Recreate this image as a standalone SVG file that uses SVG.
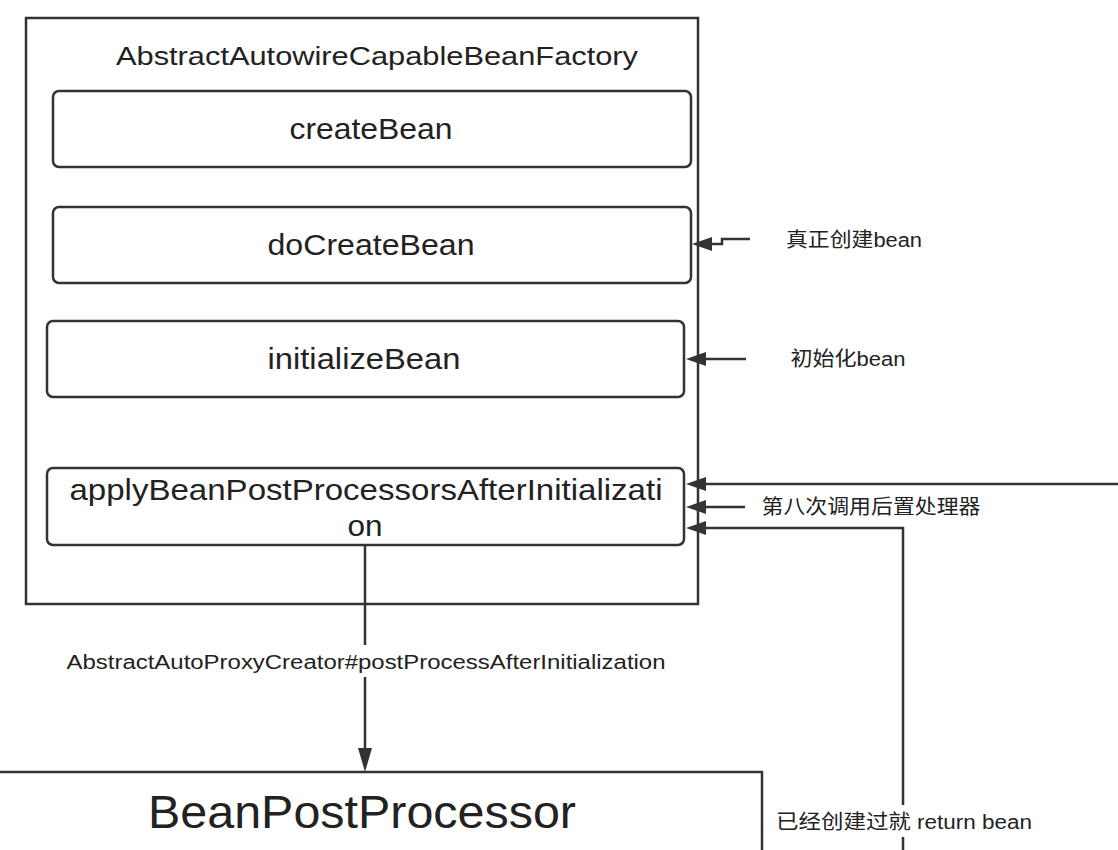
<svg xmlns="http://www.w3.org/2000/svg" width="1118" height="850" viewBox="0 0 1118 850">
<defs>
<style>
.box{fill:#fff;stroke:#333;stroke-width:2.5}
.rbox{fill:#fff;stroke:#333;stroke-width:2.5}
.t{font-family:"Liberation Sans","Noto Sans CJK SC",sans-serif;fill:#222;text-anchor:middle}
.c{fill:none;stroke:#333;stroke-width:2.5}
.ah{fill:#333}
</style>
</defs>
<g id="factory">
<rect class="box" x="26" y="18" width="672" height="586"/>
<text class="t" x="377" y="65" font-size="26" textLength="522" lengthAdjust="spacingAndGlyphs">AbstractAutowireCapableBeanFactory</text>
</g>
<g id="createBean">
<rect class="rbox" x="53" y="91" width="638" height="76" rx="6"/>
<text class="t" x="371" y="139" font-size="29" textLength="163" lengthAdjust="spacingAndGlyphs">createBean</text>
</g>
<g id="doCreateBean">
<rect class="rbox" x="53" y="207" width="638" height="76" rx="6"/>
<text class="t" x="371" y="255" font-size="29" textLength="207" lengthAdjust="spacingAndGlyphs">doCreateBean</text>
</g>
<g id="initializeBean">
<rect class="rbox" x="47" y="321" width="637" height="76" rx="6"/>
<text class="t" x="364" y="369" font-size="29" textLength="193" lengthAdjust="spacingAndGlyphs">initializeBean</text>
</g>
<g id="applyBean">
<rect class="rbox" x="47" y="468" width="637" height="77" rx="6"/>
<text class="t" x="366" y="500" font-size="29" textLength="593" lengthAdjust="spacingAndGlyphs">applyBeanPostProcessorsAfterInitializati</text>
<text class="t" x="365" y="536" font-size="29" textLength="35" lengthAdjust="spacingAndGlyphs">on</text>
</g>
<g id="beanPostProcessor">
<rect class="box" x="-10" y="772" width="772" height="100"/>
<text class="t" x="362" y="828" font-size="46" textLength="428" lengthAdjust="spacingAndGlyphs">BeanPostProcessor</text>
</g>
<g id="connectors">
<path class="c" d="M750,239 L722,239 L722,244 L710,244"/>
<path class="ah" d="M692,244 L712,237 L712,251 Z"/>
<path class="c" d="M746,359 L704,359"/>
<path class="ah" d="M686,359 L706,352 L706,366 Z"/>
<path class="c" d="M1120,484 L704,484"/>
<path class="ah" d="M686,484 L706,477 L706,491 Z"/>
<path class="c" d="M745,507 L704,507"/>
<path class="ah" d="M686,507 L706,500 L706,514 Z"/>
<path class="c" d="M903,850 L903,528 L704,528"/>
<path class="ah" d="M686,528 L706,521 L706,535 Z"/>
<path class="c" d="M365,545 L365,750"/>
<path class="ah" d="M365,772 L358,748 L372,748 Z"/>
<rect x="60" y="645" width="612" height="32" fill="#fff"/>
<text class="t" x="366" y="669" font-size="20" textLength="599" lengthAdjust="spacingAndGlyphs">AbstractAutoProxyCreator#postProcessAfterInitialization</text>
<rect x="772" y="805" width="262" height="32" fill="#fff"/>
<text class="t" x="904" y="829" font-size="20" textLength="256" lengthAdjust="spacingAndGlyphs">已经创建过就 return bean</text>
<text class="t" x="854" y="247" font-size="20" textLength="136" lengthAdjust="spacingAndGlyphs">真正创建bean</text>
<text class="t" x="848" y="366" font-size="20" textLength="115" lengthAdjust="spacingAndGlyphs">初始化bean</text>
<text class="t" x="871" y="514" font-size="20" textLength="219" lengthAdjust="spacingAndGlyphs">第八次调用后置处理器</text>
</g>
</svg>
